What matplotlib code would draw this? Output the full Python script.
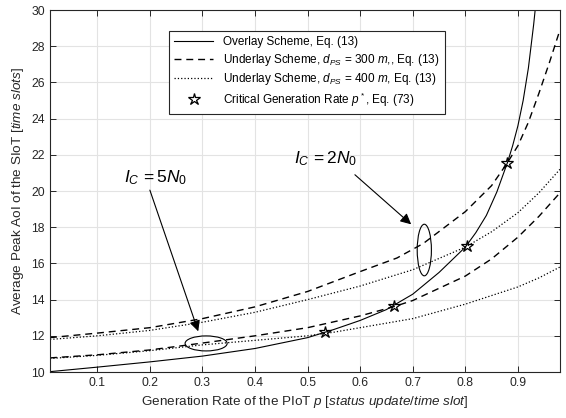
import matplotlib
matplotlib.use("Agg")
import matplotlib.pyplot as plt
from matplotlib.patches import Ellipse

plt.rcParams["font.family"] = ["Liberation Sans", "DejaVu Sans"]
plt.rcParams["mathtext.fontset"] = "custom"
plt.rcParams["mathtext.rm"] = "Liberation Sans"
plt.rcParams["mathtext.it"] = "Liberation Sans:italic"

# overlay scheme (solid)
p_over = [0.01, 0.1, 0.2, 0.3, 0.4, 0.5, 0.55, 0.6, 0.65, 0.7, 0.75, 0.8,
          0.82, 0.84, 0.86, 0.88, 0.89, 0.9, 0.91, 0.92, 0.93, 0.935]
aoi_over = [10.02, 10.27, 10.56, 10.88, 11.3, 11.9, 12.35, 12.85, 13.45, 14.3,
            15.5, 16.9, 17.7, 18.65, 19.95, 21.56, 22.5, 23.6, 25.0, 26.8,
            29.2, 30.6]

# underlay, d_PS = 300 m (dashed), I_C = 2N0 and I_C = 5N0
p_300_hi = [0.01, 0.1, 0.2, 0.3, 0.4, 0.5, 0.6, 0.67, 0.72, 0.8, 0.85, 0.88,
            0.9, 0.92, 0.94, 0.96, 0.98]
aoi_300_hi = [11.9, 12.15, 12.45, 12.95, 13.6, 14.45, 15.55, 16.3, 17.1, 18.86,
              20.3, 21.56, 22.5, 23.8, 25.4, 27.1, 28.9]
p_300_lo = [0.01, 0.1, 0.2, 0.3, 0.4, 0.5, 0.6, 0.665, 0.7, 0.8, 0.85, 0.9,
            0.94, 0.98]
aoi_300_lo = [10.78, 10.95, 11.22, 11.6, 12.0, 12.45, 13.1, 13.62, 13.95, 15.3,
              16.25, 17.45, 18.6, 19.9]

# underlay, d_PS = 400 m (dotted)
p_400_hi = [0.01, 0.1, 0.2, 0.3, 0.4, 0.5, 0.6, 0.7, 0.8, 0.85, 0.9, 0.94, 0.98]
aoi_400_hi = [11.8, 12.0, 12.3, 12.75, 13.3, 14.0, 14.75, 15.65, 16.9, 17.75,
              18.8, 19.9, 21.2]
p_400_lo = [0.01, 0.1, 0.2, 0.3, 0.4, 0.5, 0.55, 0.6, 0.7, 0.8, 0.9, 0.94, 0.98]
aoi_400_lo = [10.75, 10.92, 11.18, 11.5, 11.75, 12.0, 12.2, 12.45, 12.95, 13.75,
              14.7, 15.2, 15.8]

# critical generation rates
p_star = [0.534, 0.665, 0.8025, 0.88]
aoi_star = [12.21, 13.66, 16.94, 21.56]

fig = plt.figure(figsize=(5.66, 4.18), dpi=100)
ax = fig.add_axes([0.0883, 0.110, 0.901, 0.866])

ax.plot(p_over, aoi_over, "-", color="k", lw=0.8,
        label="Overlay Scheme, Eq. (13)")
ax.plot(p_300_hi, aoi_300_hi, color="k", lw=1.0, dashes=(5, 3.5),
        label=r"Underlay Scheme, $d_{PS}$ = $\it{300\ m}$,, Eq. (13)")
ax.plot(p_400_hi, aoi_400_hi, ":", color="k", lw=0.9,
        label=r"Underlay Scheme, $d_{PS}$ = $\it{400\ m}$, Eq. (13)")
ax.plot(p_300_lo, aoi_300_lo, color="k", lw=1.0, dashes=(5, 3.5))
ax.plot(p_400_lo, aoi_400_lo, ":", color="k", lw=0.9)
ax.plot(p_star, aoi_star, ls="none", marker="*", ms=9, mfc="none", mec="k",
        mew=0.9, label=r"Critical Generation Rate $p^*$, Eq. (73)")

ax.add_patch(Ellipse((0.307, 11.58), 0.08, 0.83, fill=False, ec="k", lw=0.8))
ax.add_patch(Ellipse((0.722, 16.74), 0.027, 2.85, fill=False, ec="k", lw=0.8))

# labels and arrows for the two interference levels
ax.text(0.21, 20.75, r"$I_C\,=5N_0$", ha="center", va="center", fontsize=12.5)
ax.annotate("", xy=(0.292, 12.25), xytext=(0.2, 20.05),
            arrowprops=dict(arrowstyle="-|>", color="k", lw=0.8,
                            mutation_scale=16, shrinkA=0, shrinkB=0))
ax.text(0.535, 21.8, r"$I_C\,=2N_0$", ha="center", va="center", fontsize=12.5)
ax.annotate("", xy=(0.697, 18.16), xytext=(0.59, 20.9),
            arrowprops=dict(arrowstyle="-|>", color="k", lw=0.8,
                            mutation_scale=16, shrinkA=0, shrinkB=0))

ax.set_xlim(0.01, 0.98)
ax.set_ylim(10, 30)
ax.set_xticks([0.1, 0.2, 0.3, 0.4, 0.5, 0.6, 0.7, 0.8, 0.9])
ax.set_yticks(range(10, 31, 2))
ax.grid(True, color="#e3e3e3", lw=0.8)
ax.set_axisbelow(True)
ax.tick_params(direction="in", top=True, right=True, labelsize=8.8,
               colors="#262626", length=4, width=0.7)
for s in ax.spines.values():
    s.set_color("#262626")
    s.set_linewidth(0.8)

ax.set_xlabel(r"Generation Rate of the PIoT $\it{p\ [status\ update/time\ slot]}$",
              fontsize=9.7, color="#262626")
ax.set_ylabel(r"Average Peak AoI of the SIoT $\it{[time\ slots]}$",
              fontsize=9.7, color="#262626")

leg = ax.legend(loc="upper left", bbox_to_anchor=(0.222, 0.958), fontsize=8.5,
                handlelength=3.3, fancybox=False, framealpha=1,
                edgecolor="#262626", borderpad=0.45, labelspacing=0.28)
leg.get_frame().set_linewidth(0.8)

fig.savefig("out.png", dpi=100)
